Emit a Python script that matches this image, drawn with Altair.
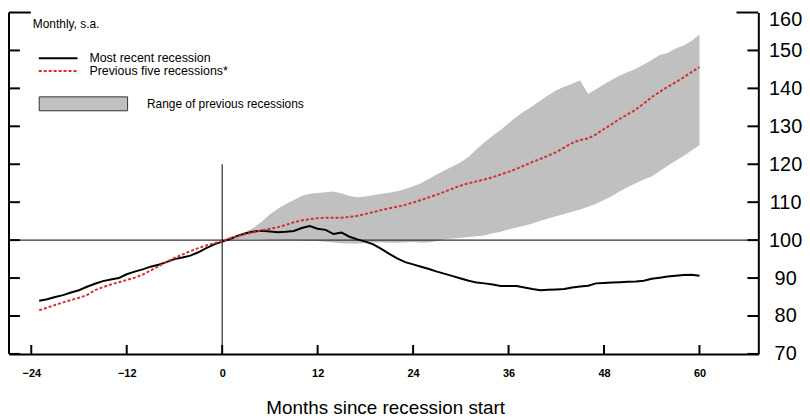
import altair as alt
import pandas as pd

# ---------------- data ----------------
months = list(range(-23, 61))
recent = [84.0, 84.4, 85.0, 85.5, 86.2, 86.8, 87.7, 88.5, 89.2, 89.6, 90.0,
          91.0, 91.7, 92.3, 93.0, 93.5, 94.2, 95.0, 95.4, 95.9, 96.8, 97.9, 98.9,
          99.6, 100.3, 101.2, 101.8, 102.3, 102.5, 102.3, 102.1, 102.2, 102.4, 103.2, 103.7,
          103.0, 102.7, 101.6, 102.0, 100.9, 100.2, 99.6, 98.9, 97.7, 96.4, 95.2, 94.2,
          93.6, 93.0, 92.4, 91.7, 91.1, 90.5, 89.9, 89.3, 88.8, 88.6, 88.3, 87.9,
          87.9, 87.9, 87.5, 87.1, 86.8, 86.9, 87.0, 87.1, 87.5, 87.8, 88.0, 88.6,
          88.7, 88.8, 88.9, 89.0, 89.1, 89.3, 89.8, 90.1, 90.4, 90.6, 90.8, 90.9,
          90.6]
previous = [81.5, 82.2, 82.9, 83.6, 84.2, 84.8, 85.5, 86.8, 87.6, 88.3, 88.9,
            89.5, 90.1, 90.9, 92.0, 93.1, 94.3, 95.3, 96.2, 97.1, 97.9, 98.6, 99.2,
            99.7, 100.5, 101.1, 101.6, 102.1, 102.6, 103.0, 103.4, 104.0, 104.7, 105.2, 105.5,
            105.8, 105.9, 105.9, 105.9, 106.1, 106.4, 106.9, 107.4, 107.9, 108.4, 108.8, 109.3,
            109.9, 110.6, 111.3, 112.0, 112.8, 113.6, 114.4, 115.0, 115.5, 116.0, 116.6, 117.3,
            118.0, 118.8, 119.7, 120.6, 121.4, 122.3, 123.2, 124.4, 125.6, 126.4, 126.8, 127.9,
            129.3, 130.6, 132.0, 133.2, 134.4, 136.0, 137.7, 139.1, 140.4, 141.6, 142.9, 144.3,
            145.6]

band_months = list(range(0, 61))
band_high = [100.0, 100.8, 101.5, 102.2, 103.3, 104.9, 106.8, 108.3, 109.5, 110.6, 111.6, 112.2,
             112.4, 112.6, 112.8, 112.3, 111.6, 111.3, 111.5, 111.8, 112.2, 112.5, 112.9, 113.5,
             114.2, 115.0, 116.2, 117.3, 118.4, 119.5, 120.5, 122.0, 124.0, 125.8, 127.5, 129.0,
             130.8, 132.5, 134.0, 135.3, 136.8, 138.2, 139.5, 140.4, 141.2, 142.1, 138.5, 139.8,
             141.1, 142.3, 143.4, 144.3, 145.2, 146.3, 147.5, 148.8, 149.3, 150.5, 151.3, 152.5,
             154.2]
band_low = [100.0, 100.2, 100.3, 100.3, 100.3, 100.2, 100.1, 100.1, 100.0, 100.0, 99.9, 99.9,
            99.8, 99.6, 99.4, 99.2, 99.1, 99.1, 99.2, 99.4, 99.4, 99.3, 99.3, 99.4,
            99.5, 99.3, 99.4, 99.8, 100.2, 100.4, 100.6, 100.8, 101.0, 101.2, 101.8, 102.2,
            102.8, 103.3, 103.8, 104.4, 105.1, 105.7, 106.3, 106.9, 107.5, 108.1, 108.8, 109.6,
            110.6, 111.6, 112.9, 114.0, 115.0, 116.0, 116.8, 118.2, 119.6, 120.9, 122.2, 123.6,
            125.0]

x_ticks = [-24, -12, 0, 12, 24, 36, 48, 60]
y_ticks = [70, 80, 90, 100, 110, 120, 130, 140, 150]
y_top = [160]

# ---------------- layout ----------------
W, H = 755, 344
FONT = "Liberation Sans"
RED = "#d42f2f"
GRAY = "#c0c0c0"

lines = pd.DataFrame({"month": months, "recent": recent, "previous": previous})
band = pd.DataFrame({"month": band_months, "low": band_low, "high": band_high})

xs = alt.Scale(domain=[-26.8, 67.4], nice=False, zero=False)
ys = alt.Scale(domain=[70, 160], nice=False, zero=False)

x_axis = alt.Axis(values=x_ticks, ticks=False, grid=False, domainColor="black",
                  domainWidth=2, labelFont=FONT, labelFontSize=11, labelFontWeight="bold",
                  labelPadding=14, labelColor="black", title=None, labelFlush=False,
                  labelOverlap=False)
y_axis = alt.Axis(orient="right", values=y_ticks + y_top, ticks=False, grid=False,
                  domainColor="black", domainWidth=2, labelFont=FONT, labelFontSize=20,
                  labelAlign="center", labelBaseline="middle", labelPadding=27,
                  labelColor="black", title=None, labelFlush=False,
                  labelOverlap=False, labelBound=False,
                  labelOffset=alt.condition("datum.value == 160", alt.value(7), alt.value(0)))


def X(f):
    return alt.X(f, scale=xs, axis=x_axis)


def Y(f):
    return alt.Y(f, scale=ys, axis=y_axis)


base = alt.Chart(lines)

area = alt.Chart(band).mark_area(color=GRAY, opacity=1).encode(
    x=X("month:Q"), y=Y("low:Q"), y2="high:Q")

hline = alt.Chart(pd.DataFrame({"v": [100]})).mark_rule(color="#333333", strokeWidth=1.2).encode(
    y=Y("v:Q"))
vline = alt.Chart(pd.DataFrame({"m": [0], "a": [120], "b": [70]})).mark_rule(
    color="black", strokeWidth=1).encode(x=X("m:Q"), y=Y("a:Q"), y2="b:Q")

black = base.mark_line(color="black", strokeWidth=2).encode(x=X("month:Q"), y=Y("recent:Q"))
red = base.mark_line(color=RED, strokeWidth=2, strokeDash=[3, 2]).encode(
    x=X("month:Q"), y=Y("previous:Q"))

# frame: left line and inward ticks
left_line = alt.Chart(pd.DataFrame({"a": [0]})).mark_rule(color="black", strokeWidth=2).encode(
    x=alt.value(0), y=alt.value(0), y2=alt.value(H))
yt = pd.DataFrame({"v": y_ticks})
ytop = pd.DataFrame({"v": y_top})
left_ticks = alt.Chart(yt).mark_rule(color="black", strokeWidth=2).encode(
    y=Y("v:Q"), x=alt.value(0), x2=alt.value(11))
left_top = alt.Chart(ytop).mark_rule(color="black", strokeWidth=2).encode(
    y=Y("v:Q"), x=alt.value(0), x2=alt.value(22))
right_ticks = alt.Chart(yt).mark_rule(color="black", strokeWidth=2).encode(
    y=Y("v:Q"), x=alt.value(W), x2=alt.value(W - 11))
right_top = alt.Chart(ytop).mark_rule(color="black", strokeWidth=2).encode(
    y=Y("v:Q"), x=alt.value(W), x2=alt.value(W - 22))
bottom_ticks = alt.Chart(pd.DataFrame({"m": x_ticks})).mark_rule(color="black", strokeWidth=2).encode(
    x=X("m:Q"), y=alt.value(H - 9), y2=alt.value(H))

# legend block
def txt(s, x, y, size, align="left", baseline="middle"):
    return alt.Chart(pd.DataFrame({"t": [s]})).mark_text(
        font=FONT, fontSize=size, align=align, baseline=baseline, color="black").encode(
        text="t:N", x=alt.value(x), y=alt.value(y))

leg_black = alt.Chart(pd.DataFrame({"a": [0]})).mark_rule(color="black", strokeWidth=2).encode(
    x=alt.value(30), x2=alt.value(69), y=alt.value(46))
leg_red = alt.Chart(pd.DataFrame({"a": [0]})).mark_rule(color=RED, strokeWidth=2, strokeDash=[3, 2]).encode(
    x=alt.value(30), x2=alt.value(69), y=alt.value(59))
leg_rect = alt.Chart(pd.DataFrame({"a": [0]})).mark_rect(fill=GRAY, stroke="#333333", strokeWidth=1).encode(
    x=alt.value(30.5), x2=alt.value(119.5), y=alt.value(85), y2=alt.value(99))

texts = [
    txt("Monthly, s.a.", 24, 12, 12),
    txt("Most recent recession", 81, 45.5, 12.5),
    txt("Previous five recessions*", 81, 58.5, 12.5),
    txt("Range of previous recessions", 139, 92, 12),
    txt("Months since recession start", W / 2 + 2, H + 61, 19, align="center", baseline="alphabetic"),
    txt("recessions", -4, -6, 26, baseline="alphabetic"),
]

chart = alt.layer(
    area, hline, vline, black, red, left_line, left_ticks, left_top, right_ticks, right_top,
    bottom_ticks, leg_black, leg_red, leg_rect, *texts
).properties(
    width=W, height=H,
    padding={"left": 1, "top": 3, "right": 44, "bottom": 62},
    autosize=alt.AutoSizeParams(type="none"),
).configure_view(stroke=None).configure_axis(labelOverlap=False)

chart.save("out.html", embed_options={"renderer": "svg", "actions": False})
